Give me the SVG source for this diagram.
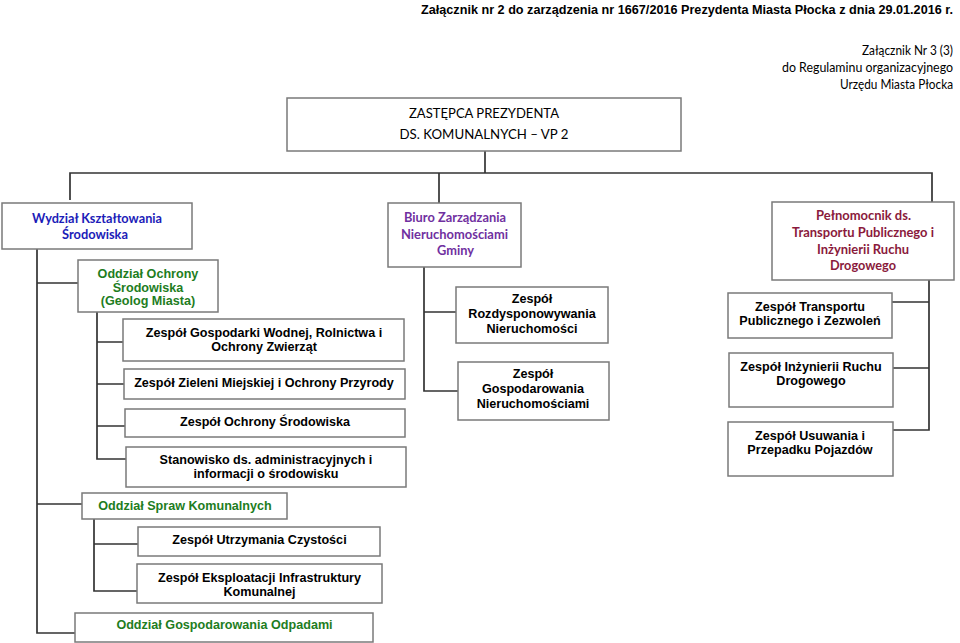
<svg xmlns="http://www.w3.org/2000/svg" width="960" height="643" viewBox="0 0 960 643">
<style>
.box{fill:#fff;stroke:#7a7a7a;stroke-width:1.5}
.con{fill:none;stroke:#333;stroke-width:1.7}
.a{font-family:"Liberation Sans",Arial,sans-serif;font-weight:bold;font-size:12.6px;fill:#000;text-anchor:middle}
.c{font-family:Lato,"Liberation Sans",sans-serif;font-size:13px;text-anchor:middle}
.cb{font-family:Lato,"Liberation Sans",sans-serif;font-size:13px;font-weight:bold;text-anchor:middle}
.tr{font-family:Lato,"Liberation Sans",sans-serif;font-size:13.5px;text-anchor:end}
.blue{fill:#1c1cb8}
.green{fill:#1e7d1e}
.purple{fill:#7030a0}
.red{fill:#8a1a3c}
</style>
<rect width="960" height="643" fill="#fff"/>
<g id="header">
<text x="953" y="14" text-anchor="end" font-family="'Liberation Sans Narrow','Liberation Sans',Arial,sans-serif" font-weight="bold" font-size="13.5" textLength="532" lengthAdjust="spacingAndGlyphs">Załącznik nr 2 do zarządzenia nr 1667/2016 Prezydenta Miasta Płocka z dnia 29.01.2016 r.</text>
<text class="tr" x="953" y="55" textLength="91" lengthAdjust="spacingAndGlyphs">Załącznik Nr 3 (3)</text>
<text class="tr" x="953" y="72" textLength="171" lengthAdjust="spacingAndGlyphs">do Regulaminu organizacyjnego</text>
<text class="tr" x="953" y="89" textLength="113" lengthAdjust="spacingAndGlyphs">Urzędu Miasta Płocka</text>
</g>
<g id="connectors">
<path class="con" d="M485,151V173"/>
<path class="con" d="M70,200V173H932V202"/>
<path class="con" d="M439,173V203"/>
<path class="con" d="M37,249V633H75M37,283H78M37,504H82"/>
<path class="con" d="M97,312V459H126M97,342H123M97,384H124M97,426H125"/>
<path class="con" d="M94,519V591H137M94,544H138"/>
<path class="con" d="M424,267V391H458M424,312H456"/>
<path class="con" d="M929,280V430H893M929,302H892M929,368H893"/>
</g>
<g id="vp2">
<rect class="box" x="287" y="98" width="394" height="53"/>
<text class="c" x="484" y="118" font-size="15" textLength="150" lengthAdjust="spacingAndGlyphs">ZASTĘPCA PREZYDENTA</text>
<text class="c" x="484" y="139" font-size="15" textLength="169" lengthAdjust="spacingAndGlyphs">DS. KOMUNALNYCH – VP 2</text>
</g>
<g id="wydzial">
<rect class="box" x="2" y="203" width="190" height="46"/>
<text class="cb blue" x="97" y="223" textLength="130" lengthAdjust="spacingAndGlyphs">Wydział Kształtowania</text>
<text class="cb blue" x="95" y="239" textLength="66" lengthAdjust="spacingAndGlyphs">Środowiska</text>
</g>
<g id="oddzial-ochrony">
<rect class="box" x="78" y="260" width="140" height="52"/>
<text class="a green" x="148" y="278">Oddział Ochrony</text>
<text class="a green" x="148" y="292">Środowiska</text>
<text class="a green" x="148" y="305">(Geolog Miasta)</text>
</g>
<g id="gospodarki">
<rect class="box" x="123" y="319" width="281" height="42"/>
<text class="a" x="264" y="337">Zespół Gospodarki Wodnej, Rolnictwa i</text>
<text class="a" x="264" y="351">Ochrony Zwierząt</text>
</g>
<g id="zieleni">
<rect class="box" x="124" y="369" width="281" height="30"/>
<text class="a" x="264" y="387">Zespół Zieleni Miejskiej i Ochrony Przyrody</text>
</g>
<g id="ochrony-srodowiska">
<rect class="box" x="125" y="409" width="280" height="28"/>
<text class="a" x="265" y="426">Zespół Ochrony Środowiska</text>
</g>
<g id="stanowisko">
<rect class="box" x="126" y="447" width="280" height="40"/>
<text class="a" x="266" y="464">Stanowisko ds. administracyjnych i</text>
<text class="a" x="266" y="478">informacji o środowisku</text>
</g>
<g id="spraw-komunalnych">
<rect class="box" x="82" y="493" width="205" height="26"/>
<text class="a green" x="185" y="510">Oddział Spraw Komunalnych</text>
</g>
<g id="utrzymania">
<rect class="box" x="138" y="527" width="242" height="29"/>
<text class="a" x="259.5" y="544">Zespół Utrzymania Czystości</text>
</g>
<g id="eksploatacji">
<rect class="box" x="137" y="564" width="245" height="39"/>
<text class="a" x="259.5" y="582">Zespół Eksploatacji Infrastruktury</text>
<text class="a" x="259.5" y="596">Komunalnej</text>
</g>
<g id="odpadami">
<rect class="box" x="75" y="613" width="298" height="29"/>
<text class="a green" x="224.5" y="629">Oddział Gospodarowania Odpadami</text>
</g>
<g id="biuro">
<rect class="box" x="388" y="203" width="133" height="64"/>
<text class="cb purple" x="455" y="222" textLength="102" lengthAdjust="spacingAndGlyphs">Biuro Zarządzania</text>
<text class="cb purple" x="454.5" y="239" textLength="107" lengthAdjust="spacingAndGlyphs">Nieruchomościami</text>
<text class="cb purple" x="455.5" y="255" textLength="37" lengthAdjust="spacingAndGlyphs">Gminy</text>
</g>
<g id="rozdysponowywania">
<rect class="box" x="456" y="287" width="152" height="56"/>
<text class="a" x="532" y="303">Zespół</text>
<text class="a" x="532" y="318">Rozdysponowywania</text>
<text class="a" x="532" y="333">Nieruchomości</text>
</g>
<g id="gospodarowania-nieruchomosciami">
<rect class="box" x="458" y="362" width="151" height="58"/>
<text class="a" x="533" y="378">Zespół</text>
<text class="a" x="533" y="393">Gospodarowania</text>
<text class="a" x="533" y="408">Nieruchomościami</text>
</g>
<g id="pelnomocnik">
<rect class="box" x="772" y="202" width="182" height="78"/>
<text class="cb red" x="863.5" y="220" textLength="95" lengthAdjust="spacingAndGlyphs">Pełnomocnik ds.</text>
<text class="cb red" x="863" y="237" textLength="142" lengthAdjust="spacingAndGlyphs">Transportu Publicznego i</text>
<text class="cb red" x="863" y="254" textLength="92" lengthAdjust="spacingAndGlyphs">Inżynierii Ruchu</text>
<text class="cb red" x="863" y="270" textLength="66" lengthAdjust="spacingAndGlyphs">Drogowego</text>
</g>
<g id="transportu">
<rect class="box" x="728" y="293" width="164" height="45"/>
<text class="a" x="810" y="311">Zespół Transportu</text>
<text class="a" x="810" y="325">Publicznego i Zezwoleń</text>
</g>
<g id="inzynierii">
<rect class="box" x="729" y="353" width="164" height="54"/>
<text class="a" x="811" y="371">Zespół Inżynierii Ruchu</text>
<text class="a" x="811" y="385">Drogowego</text>
</g>
<g id="usuwania">
<rect class="box" x="728" y="422" width="165" height="54"/>
<text class="a" x="810" y="440">Zespół Usuwania i</text>
<text class="a" x="810" y="454">Przepadku Pojazdów</text>
</g>
</svg>
